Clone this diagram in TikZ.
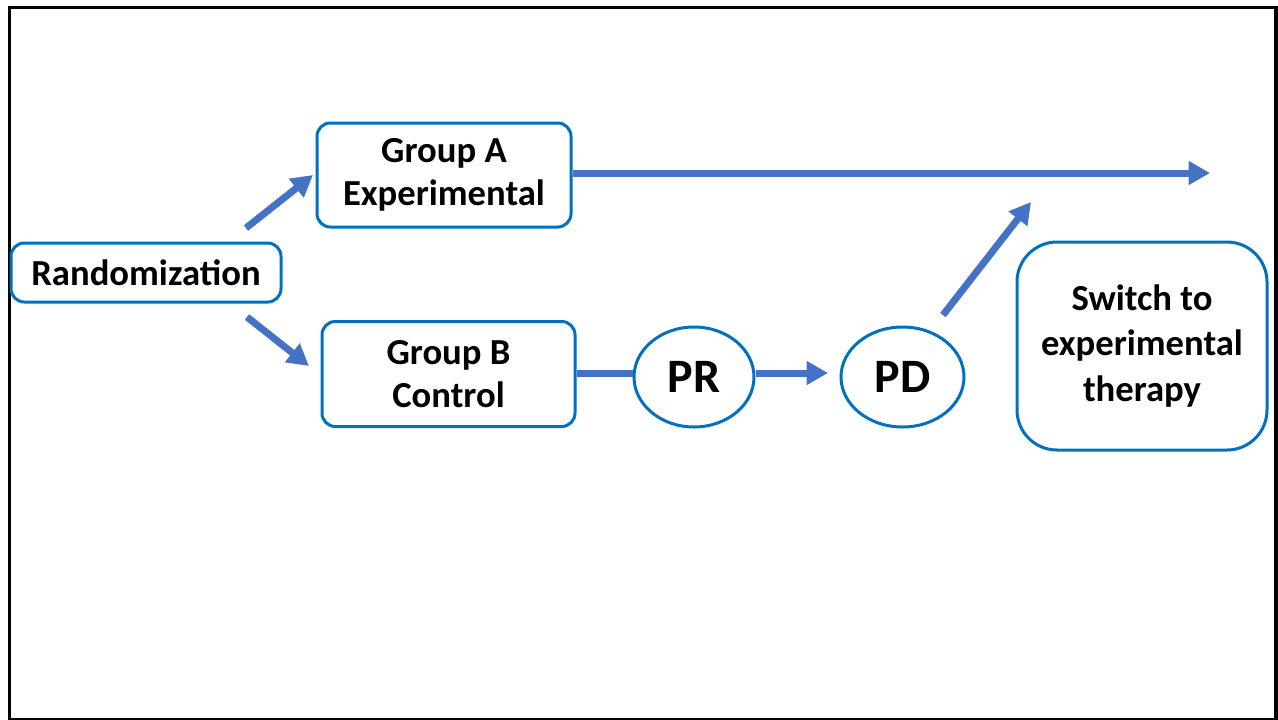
\documentclass[tikz,border=0pt]{standalone}
\usepackage{fontspec}
\setmainfont{Carlito}
\usetikzlibrary{arrows.meta,shapes.geometric}
\definecolor{boxblue}{HTML}{0070C0}
\definecolor{arrowblue}{HTML}{4472C4}
\tikzset{
  box/.style={draw=boxblue, line width=2.25pt, rounded corners=10pt, align=center,
    font=\fontsize{27.5}{32}\selectfont\bfseries, inner sep=0pt},
  oval/.style={draw=boxblue, line width=2.25pt, ellipse, inner sep=0pt,
    font=\fontsize{36}{40}\selectfont\bfseries},
  flow/.style={draw=arrowblue, line width=5.25pt,
    -{Triangle[length=16pt,width=17pt]}},
  link/.style={draw=arrowblue, line width=5.25pt}
}
\begin{document}
\begin{tikzpicture}[x=0.75pt,y=-0.75pt]
  \useasboundingbox (0,0) rectangle (1278,719);
  % outer frame
  \draw[line width=2.6pt] (9.5,7.5) rectangle (1276,720);

  % boxes and ovals
  \node[box, minimum width=202.5pt, minimum height=44.25pt] (rand) at (146,272.5) {Randomization};
  \node[box, minimum width=190.5pt, minimum height=78pt] (ga) at (444,175) {Group A\\Experimental};
  \node[box, minimum width=189.75pt, minimum height=78.75pt] (gb) at (448.5,374) {Group B\\Control};
  \node[oval, minimum width=90pt, minimum height=75pt] (pr) at (694,377) {PR};
  \node[oval, minimum width=92.25pt, minimum height=75pt] (pd) at (902.5,377) {PD};
  \node[box, rounded corners=30pt, minimum width=187.5pt, minimum height=156pt,
    font=\fontsize{27.5}{34}\selectfont\bfseries] (sw) at (1142,346) {Switch to\\experimental\\therapy};

  % free ends of the connectors
  \coordinate (upA0) at (246,228);
  \coordinate (upA1) at (313,175);
  \coordinate (dnB0) at (247,317);
  \coordinate (dnB1) at (309,366);
  \coordinate (aEnd) at (1210,173);
  \coordinate (pdIn) at (828,373);
  \coordinate (sw0) at (943,315);
  \coordinate (sw1) at (1031,202);

  % connectors
  \draw[flow] (upA0) -- (upA1);
  \draw[flow] (dnB0) -- (dnB1);
  \draw[flow] (ga.east |- aEnd) -- (aEnd);
  \draw[link] (gb.east |- pdIn) -- (pr.west |- pdIn);
  \draw[flow] (pr.east |- pdIn) -- (pdIn);
  \draw[flow] (sw0) -- (sw1);
\end{tikzpicture}
\end{document}
